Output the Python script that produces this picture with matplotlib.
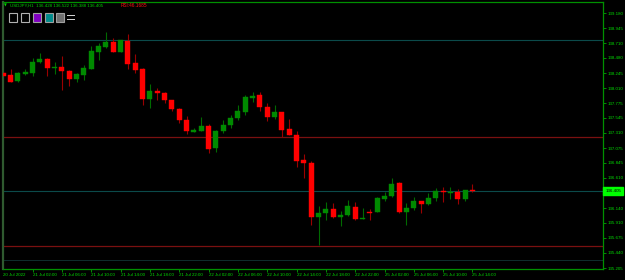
import matplotlib
matplotlib.use("Agg")
import matplotlib.pyplot as plt
from matplotlib.patches import Rectangle
import matplotlib.transforms as mtrans

# ---- data (USDJPY H1) ----
opens = [138.245, 138.209, 138.120, 138.234, 138.250, 138.412, 138.463, 138.318, 138.334, 138.281,
         138.156, 138.214, 138.312, 138.577, 138.655, 138.733, 138.577, 138.749, 138.396, 138.303,
         137.835, 137.960, 137.938, 137.824, 137.684, 137.508, 137.330, 137.346, 137.424, 137.071,
         137.346, 137.430, 137.539, 137.637, 137.855, 137.907, 137.710, 137.564, 137.633, 137.368,
         137.283, 136.889, 136.838, 136.005, 136.058, 136.125, 135.996, 136.032, 136.161, 135.969,
         136.083, 136.083, 136.286, 136.323, 136.526, 136.074, 136.141, 136.250, 136.198, 136.301,
         136.410, 136.379, 136.395, 136.286, 136.428]
highs = [138.280, 138.303, 138.261, 138.307, 138.474, 138.561, 138.474, 138.421, 138.515, 138.292,
         138.240, 138.365, 138.666, 138.708, 138.889, 138.795, 138.759, 138.848, 138.537, 138.318,
         138.074, 138.007, 137.944, 137.829, 137.704, 137.575, 137.383, 137.554, 137.445, 137.361,
         137.512, 137.586, 137.751, 137.902, 137.954, 137.944, 137.782, 137.746, 137.642, 137.523,
         137.341, 136.978, 136.873, 136.172, 136.239, 136.223, 136.099, 136.265, 136.239, 136.136,
         136.125, 136.307, 136.395, 136.604, 136.546, 136.223, 136.307, 136.254, 136.370, 136.448,
         136.473, 136.463, 136.437, 136.426, 136.522]
lows = [138.180, 138.105, 138.105, 138.214, 138.203, 138.396, 138.198, 138.234, 137.980, 138.042,
        138.100, 138.136, 138.303, 138.448, 138.630, 138.572, 138.572, 138.307, 138.250, 137.746,
        137.704, 137.824, 137.782, 137.657, 137.461, 137.294, 137.325, 137.341, 137.003, 137.018,
        137.314, 137.392, 137.512, 137.590, 137.798, 137.657, 137.497, 137.533, 137.252, 137.274,
        136.785, 136.604, 135.876, 135.564, 135.954, 135.980, 135.860, 136.016, 135.954, 135.964,
        135.954, 136.074, 136.254, 136.317, 136.058, 135.876, 136.110, 136.058, 136.192, 136.250,
        136.239, 136.276, 136.198, 136.254, 136.388]
closes = [138.198, 138.109, 138.240, 138.265, 138.421, 138.459, 138.318, 138.334, 138.276, 138.156,
          138.229, 138.323, 138.588, 138.666, 138.724, 138.577, 138.755, 138.390, 138.292, 137.835,
          137.965, 137.933, 137.824, 137.679, 137.508, 137.336, 137.361, 137.424, 137.060, 137.346,
          137.435, 137.544, 137.653, 137.871, 137.891, 137.710, 137.564, 137.633, 137.357, 137.279,
          136.878, 136.838, 136.005, 136.067, 136.125, 135.996, 136.036, 136.177, 135.969, 135.985,
          136.063, 136.301, 136.328, 136.515, 136.074, 136.141, 136.250, 136.198, 136.301, 136.406,
          136.390, 136.395, 136.276, 136.416, 136.405]

price_ticks = [139.180, 138.945, 138.710, 138.480, 138.245, 138.010, 137.775, 137.545, 137.310,
               137.075, 136.845, 136.610, 136.140, 135.910, 135.675, 135.440, 135.205]
time_tick_bars = [0, 4, 8, 12, 16, 20, 24, 28, 32, 36, 40, 44, 48, 52, 56, 60, 64]
time_tick_labels = ["20 Jul 2022", "21 Jul 02:00", "21 Jul 06:00", "21 Jul 10:00", "21 Jul 14:00",
                    "21 Jul 18:00", "21 Jul 22:00", "22 Jul 02:00", "22 Jul 06:00", "22 Jul 10:00",
                    "22 Jul 14:00", "22 Jul 18:00", "22 Jul 22:00", "25 Jul 02:00", "25 Jul 06:00",
                    "25 Jul 10:00", "25 Jul 14:00"]
teal_levels = [138.759, 136.405]
red_levels = [137.247, 135.548]
dim_levels = [135.330]
current_price = 136.405
header = "USDJPY,H1  136.428 136.522 136.388 136.405"
rsi_text = "RSI:46.1685"

plt.rcParams["font.family"] = ["Liberation Sans", "DejaVu Sans"]

# ---- figure ----
W, H = 625, 280
fig = plt.figure(figsize=(W / 100, H / 100), dpi=100, facecolor="black")
ax = fig.add_axes([2.5 / W, 1 - 269 / H, 600.5 / W, 267 / H], facecolor="black")

GREEN_TXT = "#00dc00"
BULL = "#008a00"
BEAR = "#ff0000"
FS = 3.2

for lv in teal_levels:
    ax.axhline(lv, color="#0b4a4a", lw=0.8, zorder=1)
for lv in red_levels:
    ax.axhline(lv, color="#7a1010", lw=0.9, zorder=1)
for lv in dim_levels:
    ax.axhline(lv, color="#102e2e", lw=0.7, zorder=1)

n = len(opens)
xs = list(range(n))
bw = 0.68
min_h = 0.012
for i in xs:
    o, h, l, c = opens[i], highs[i], lows[i], closes[i]
    up = c >= o
    col = BULL if up else BEAR
    wick = "#006a00" if up else "#9a0000"
    ax.vlines(i, l, h, color=wick, lw=0.8, zorder=2)
    bottom = min(o, c)
    height = max(abs(c - o), min_h)
    ax.add_patch(Rectangle((i - bw / 2, bottom), bw, height, facecolor=col,
                           edgecolor=col, lw=0.3, zorder=3))

ax.set_xlim(-0.1, 81.8)
ax.set_ylim(135.190, 139.352)

# axes styling
for s in ["top", "right", "bottom"]:
    ax.spines[s].set_color("#009000")
    ax.spines[s].set_linewidth(0.9)
ax.spines["left"].set_color("#2f5a2f")
ax.spines["left"].set_linewidth(1.6)

ax.yaxis.tick_right()
ax.set_yticks(price_ticks)
ax.set_yticklabels([f"{v:.3f}" for v in price_ticks])
ax.tick_params(axis="y", colors="#009000", labelcolor=GREEN_TXT, length=2.5, width=0.7,
               labelsize=FS, pad=1.2)

ax.set_xticks(time_tick_bars)
ax.set_xticklabels(time_tick_labels, ha="left")
ax.tick_params(axis="x", colors="#009000", labelcolor=GREEN_TXT, length=2, width=0.7,
               labelsize=FS, pad=1.2)
ax.get_xticklines()[0].set_visible(False)

# current price marker
tr = mtrans.blended_transform_factory(ax.transAxes, ax.transData)
ax.text(1.004, current_price, f"{current_price:.3f}", transform=tr, fontsize=FS,
        color="black", va="center", ha="left",
        bbox=dict(boxstyle="square,pad=0.45", facecolor="#00ff00", edgecolor="#00ff00"))

# header
fig.text(4 / W, 1 - 5.5 / H, "▼", fontsize=2.6, color=GREEN_TXT, va="center", ha="left",
         family="DejaVu Sans")
fig.text(9.5 / W, 1 - 5.5 / H, header, fontsize=3.2, color="#00d000", va="center", ha="left")
fig.text(121 / W, 1 - 5.5 / H, rsi_text, fontsize=3.4, color="#ff1010", va="center", ha="left")

# toolbar icons
icon_y = 1 - 21.5 / H
icon_h = 8 / H
icon_w = 8 / W
specs = [(9, "none", "#b0b0b0"), (21, "none", "#b0b0b0"), (33, "#8000c0", "#a0a0a0"),
         (45, "#008b8b", "#a0a0a0"), (56, "#707070", "#a0a0a0")]
for x0, fc, ec in specs:
    fig.patches.append(Rectangle((x0 / W, icon_y), icon_w, icon_h, transform=fig.transFigure,
                                 facecolor=fc, edgecolor=ec, lw=0.8))
for yy in (15, 19):
    fig.patches.append(Rectangle((67 / W, 1 - (yy + 1) / H), 8 / W, 1.2 / H,
                                 transform=fig.transFigure, facecolor="#d0d0d0", edgecolor="none"))

fig.savefig("out.png", dpi=100, facecolor="black")
